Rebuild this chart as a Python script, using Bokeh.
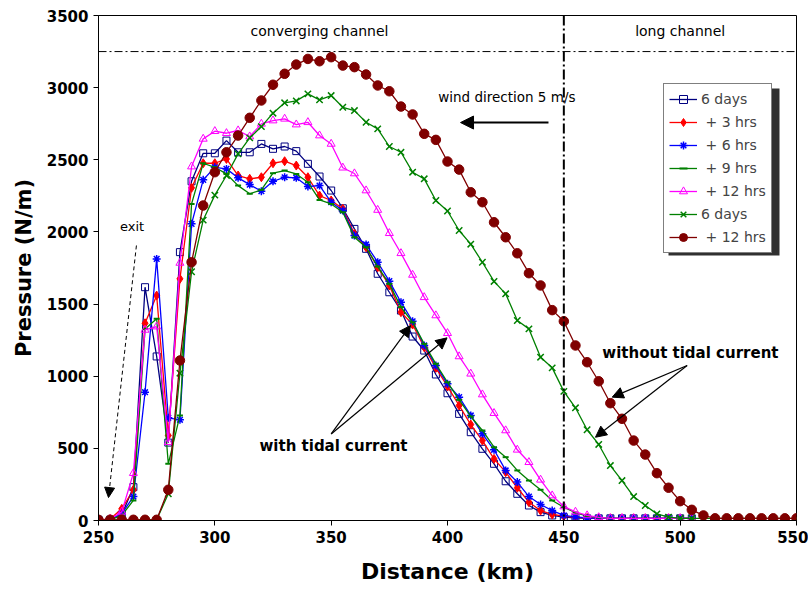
from bokeh.plotting import figure
from bokeh.models import (Range1d, Span, Label, Arrow, NormalHead, Legend,
                          LegendItem, FixedTicker, BoxAnnotation)
from bokeh.embed import file_html
from bokeh.resources import INLINE

# ---------------- data ----------------
dist_tidal = [250, 255, 260, 265, 270, 275, 280, 285, 290, 295, 300, 305, 310,
              315, 320, 325, 330, 335, 340, 345, 350, 355, 360, 365, 370, 375,
              380, 385, 390, 395, 400, 405, 410, 415, 420, 425, 430, 435, 440,
              445, 450, 455, 460, 465, 470, 475, 480, 485, 490, 495, 500, 505]
dist_full = dist_tidal + [510, 515, 520, 525, 530, 535, 540, 545, 550]

p_6days = [5, 5, 40, 231, 1617, 1137, 540, 1860, 2351, 2545, 2545, 2633, 2552,
           2552, 2610, 2576, 2592, 2560, 2472, 2384, 2287, 2164, 2021, 1883,
           1710, 1582, 1455, 1275, 1178, 1012, 882, 739, 612, 497, 393, 272,
           185, 104, 58, 35, 23, 18, 15, 15, 15, 15, 15, 15, 15, 15, 15, 15]
p_3hrs = [5, 10, 81, 213, 1367, 1559, 589, 1675, 2306, 2476, 2476, 2506, 2391,
          2368, 2379, 2476, 2490, 2460, 2379, 2252, 2218, 2160, 1987, 1894,
          1755, 1629, 1444, 1358, 1201, 1058, 929, 797, 665, 554, 427, 335,
          227, 127, 69, 42, 30, 22, 18, 15, 15, 15, 15, 15, 15, 15, 15, 15]
p_6hrs = [5, 8, 46, 166, 889, 1813, 712, 698, 2056, 2361, 2448, 2437, 2375,
          2328, 2282, 2351, 2379, 2375, 2315, 2321, 2206, 2148, 1975, 1913,
          1790, 1659, 1513, 1381, 1213, 1074, 947, 855, 728, 601, 490, 347,
          266, 166, 111, 69, 35, 25, 18, 15, 15, 15, 15, 15, 15, 15, 15, 15]
p_9hrs = [5, 5, 35, 139, 1328, 1398, 393, 728, 2194, 2476, 2448, 2402, 2321,
          2264, 2292, 2407, 2425, 2402, 2344, 2222, 2194, 2137, 1963, 1894,
          1760, 1640, 1479, 1374, 1224, 1086, 958, 836, 721, 624, 508, 439,
          347, 277, 213, 139, 92, 55, 30, 20, 15, 15, 15, 15, 15, 15, 15, 15]
p_12hrs = [5, 10, 60, 328, 1321, 1344, 543, 1785, 2453, 2645, 2698, 2684, 2703,
           2661, 2749, 2772, 2784, 2744, 2760, 2668, 2610, 2445, 2405, 2287,
           2152, 1991, 1852, 1702, 1547, 1421, 1298, 1137, 1017, 873, 744, 624,
           490, 404, 282, 173, 97, 60, 35, 22, 15, 15, 15, 15, 15, 15, 15, 15]
p_notide_6days = [5, 5, 5, 5, 5, 5, 185, 1021, 1724, 2082, 2255, 2391, 2541,
                  2652, 2730, 2823, 2895, 2908, 2957, 2915, 2945, 2864, 2841,
                  2760, 2714, 2592, 2552, 2414, 2368, 2218, 2145, 2010, 1915,
                  1790, 1657, 1571, 1386, 1328, 1132, 1058, 895, 781, 629, 527,
                  381, 277, 166, 104, 46, 23, 15, 15, 15, 15, 15, 15, 15, 15,
                  15, 15, 15]
p_notide_12hrs = [5, 5, 5, 5, 5, 5, 213, 1109, 1790, 2183, 2414, 2552, 2668,
                  2791, 2911, 3020, 3096, 3160, 3199, 3183, 3211, 3153, 3142,
                  3091, 3015, 2975, 2869, 2814, 2680, 2638, 2488, 2432, 2275,
                  2206, 2067, 1963, 1852, 1714, 1629, 1458, 1381, 1213, 1097,
                  965, 813, 705, 554, 457, 328, 227, 134, 74, 35, 15, 15, 15,
                  15, 15, 15, 15, 15]

legend_labels = ["6 days", " + 3 hrs", " + 6 hrs", " + 9 hrs", " + 12 hrs",
                 "6 days", " + 12 hrs"]
x_ticks = [250, 300, 350, 400, 450, 500, 550]
y_ticks = [0, 500, 1000, 1500, 2000, 2500, 3000, 3500]

FONT = "DejaVu Sans"
X0, X1, Y0, Y1 = 250, 550, 0, 3500
FL, FR, FT, FB = 98, 796, 15, 520   # frame in pixels


def px_x(px):
    return X0 + (px - FL) / (FR - FL) * (X1 - X0)


def px_y(py):
    return Y0 + (FB - py) / (FB - FT) * (Y1 - Y0)


p = figure(width=808, height=591, x_range=Range1d(X0, X1),
           y_range=Range1d(Y0, Y1), output_backend="svg",
           toolbar_location=None, min_border_left=FL, min_border_right=808 - FR,
           min_border_top=FT, min_border_bottom=591 - FB)
p.xgrid.visible = False
p.ygrid.visible = False
p.outline_line_color = "black"
p.outline_line_width = 1
p.background_fill_color = "white"
p.border_fill_color = "white"

for ax in (p.xaxis[0], p.yaxis[0]):
    ax.axis_line_color = "black"
    ax.major_tick_line_color = "black"
    ax.major_tick_out = 5
    ax.major_tick_in = 0
    ax.minor_tick_line_color = None
    ax.major_label_text_font = FONT
    ax.major_label_text_font_style = "bold"
    ax.major_label_text_font_size = "15px"
    ax.major_label_text_color = "black"
    ax.axis_label_text_font = FONT
    ax.axis_label_text_font_style = "bold"
    ax.axis_label_text_font_size = "21px"
    ax.axis_label_text_color = "black"
    ax.major_label_standoff = 5
p.xaxis.ticker = FixedTicker(ticks=x_ticks)
p.yaxis.ticker = FixedTicker(ticks=y_ticks)
p.xaxis.axis_label = "Distance (km)"
p.yaxis.axis_label = "Pressure (N/m)"
p.xaxis.axis_label_text_font_size = "22px"
p.xaxis.axis_label_standoff = 13
p.yaxis.axis_label_standoff = 8

# channel separators
p.add_layout(Span(location=3250, dimension="width", line_color="black",
                  line_width=1, line_dash="8 3 2 3"))
p.add_layout(Span(location=450, dimension="height", line_color="black",
                  line_width=2, line_dash="10 3 2 3"))

series = [
    (dist_tidal, p_6days, "#000080", "square", 7, "white", 0.0, 1.0),
    (dist_tidal, p_3hrs, "#FF0000", "diamond", 9, "#FF0000", 1.0, 1.0),
    (dist_tidal, p_6hrs, "#0000FF", "asterisk", 8, "#0000FF", 1.0, 1.5),
    (dist_tidal, p_9hrs, "#008000", "dash", 6, "#008000", 1.0, 2.0),
    (dist_tidal, p_12hrs, "#FF00FF", "triangle", 8, "white", 0.0, 1.0),
    (dist_full, p_notide_6days, "#008000", "x", 9, "#008000", 1.0, 1.5),
    (dist_full, p_notide_12hrs, "#800000", "circle", 9.5, "#800000", 1.0, 1.0),
]
items = []
for (xs, ys, col, mk, sz, fc, fa, mlw), lab in zip(series, legend_labels):
    ln = p.line(xs, ys, line_color=col, line_width=1.3)
    sc = p.scatter(xs, ys, marker=mk, size=sz, line_color=col, fill_color=fc,
                   fill_alpha=fa, line_width=mlw)
    items.append(LegendItem(label=lab, renderers=[ln, sc]))

# legend drop shadow (drawn before the legend box)
p.add_layout(BoxAnnotation(left=px_x(668), right=px_x(779), top=px_y(88),
                           bottom=px_y(255), fill_color="#303030",
                           fill_alpha=1, line_color=None))

legend = Legend(items=items, location=(565, 267), border_line_color="black",
                border_line_width=1, background_fill_color="white",
                background_fill_alpha=1, padding=5, spacing=3,
                label_height=20, glyph_height=20, glyph_width=28,
                label_standoff=4, label_text_font=FONT,
                label_text_font_size="14px", margin=0)
p.add_layout(legend)


# text annotations
def lab(x, y, t, size, bold=False):
    p.add_layout(Label(x=x, y=y, text=t, text_align="center",
                       text_baseline="middle", text_font=FONT,
                       text_font_size=size,
                       text_font_style="bold" if bold else "normal",
                       text_color="black"))


lab(345, 3390, "converging channel", "14px")
lab(500, 3390, "long channel", "14px")
lab(425.5, 2938, "wind direction 5 m/s", "13.5px")
lab(264.4, 2037, "exit", "13px")
lab(351, 513, "with tidal current", "15px", True)
lab(504.4, 1164, "without tidal current", "15px", True)


def arrow(x0, y0, x1, y1, size=11, dash="solid", lw=1.2):
    p.add_layout(Arrow(end=NormalHead(size=size, fill_color="black",
                                      line_color="black"),
                       x_start=x0, y_start=y0, x_end=x1, y_end=y1,
                       line_color="black", line_width=lw, line_dash=dash))


arrow(443.4, 2758, 405.6, 2758, size=13, lw=2)
arrow(266.3, 1906, 254.3, 159, size=10, dash="4 3", lw=1)
arrow(350, 600, 384.1, 1351)
arrow(350, 600, 399.8, 1266)
arrow(503, 1074, 470.8, 855)
arrow(503, 1074, 463.6, 577)

open("out.html", "w").write(file_html(p, INLINE))
